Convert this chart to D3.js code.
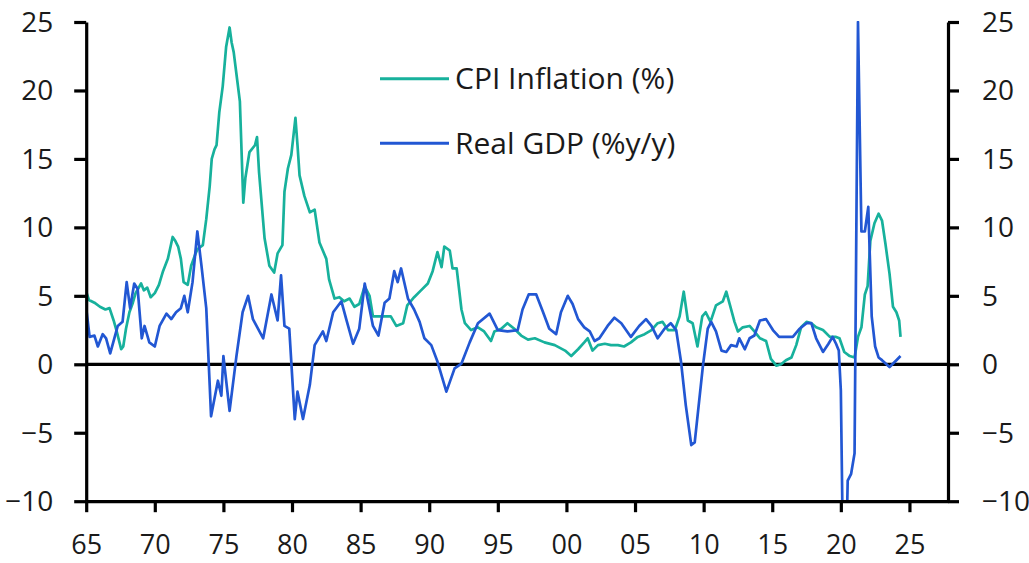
<!DOCTYPE html>
<html>
<head>
<meta charset="utf-8">
<script src="https://cdn.jsdelivr.net/npm/d3@7/dist/d3.min.js"></script>
<style>
  html, body { margin: 0; padding: 0; background: #fff; }
  svg { display: block; }
  text { font-family: "Open Sans", "Noto Sans", sans-serif; fill: #1a1a1a; }
</style>
</head>
<body>
<svg id="chart" width="1029" height="563"></svg>
<script>
// ---- Data (decimal year, value) ----
const cpiInflation = [
  [1965.0,5.3],[1965.2,4.7],[1965.6,4.5],[1966.0,4.2],[1966.4,4.0],[1966.7,4.1],[1967.0,3.2],[1967.2,2.5],
  [1967.55,1.1],[1967.7,1.3],[1967.9,2.6],[1968.15,3.8],[1968.4,4.5],[1968.6,5.2],[1969.0,5.9],[1969.2,5.4],
  [1969.45,5.6],[1969.7,4.9],[1970.0,5.2],[1970.3,5.8],[1970.6,6.8],[1970.95,7.7],[1971.15,8.6],[1971.3,9.3],
  [1971.5,9.0],[1971.7,8.6],[1971.9,7.7],[1972.1,6.0],[1972.4,5.8],[1972.65,7.2],[1972.9,7.9],[1973.1,8.4],
  [1973.5,8.7],[1973.75,10.6],[1974.0,13.0],[1974.15,15.0],[1974.35,15.7],[1974.5,16.0],[1974.7,18.4],
  [1974.95,20.3],[1975.2,23.2],[1975.45,24.6],[1975.6,23.5],[1975.75,22.8],[1976.0,20.8],[1976.2,19.2],
  [1976.45,11.8],[1976.6,13.6],[1976.9,15.5],[1977.3,16.0],[1977.45,16.6],[1977.6,14.0],[1978.0,9.2],
  [1978.35,7.2],[1978.7,6.7],[1978.95,8.1],[1979.3,8.7],[1979.45,12.6],[1979.7,14.3],[1979.95,15.3],
  [1980.25,18.0],[1980.4,16.0],[1980.55,13.8],[1980.9,12.3],[1981.3,11.1],[1981.65,11.3],[1982.0,8.9],
  [1982.5,7.7],[1982.7,6.2],[1983.1,4.8],[1983.45,4.9],[1983.8,4.6],[1984.2,4.8],[1984.55,4.2],[1984.9,4.4],
  [1985.3,5.7],[1985.65,5.0],[1985.9,3.5],[1986.25,3.5],[1986.5,3.5],[1987.2,3.5],[1987.6,2.8],[1988.1,3.0],
  [1988.4,4.3],[1988.9,4.9],[1989.4,5.4],[1989.9,5.9],[1990.25,6.8],[1990.6,8.2],[1990.9,7.1],[1991.1,8.6],
  [1991.5,8.3],[1991.7,7.0],[1992.0,7.0],[1992.35,4.0],[1992.6,3.0],[1993.05,2.5],[1993.55,2.7],[1994.0,2.4],
  [1994.5,1.7],[1994.75,2.4],[1995.25,2.6],[1995.7,3.0],[1996.2,2.6],[1996.7,2.1],[1997.2,1.8],[1997.7,1.9],
  [1998.4,1.6],[1999.15,1.4],[1999.9,1.0],[2000.35,0.6],[2000.85,1.1],[2001.3,1.6],[2001.55,1.9],[2001.9,1.0],
  [2002.3,1.4],[2002.8,1.5],[2003.25,1.4],[2003.75,1.4],[2004.2,1.3],[2004.7,1.6],[2005.2,2.0],[2005.7,2.2],
  [2006.2,2.5],[2006.65,3.0],[2007.0,3.1],[2007.4,2.5],[2007.9,2.5],[2008.25,3.5],[2008.55,5.3],[2008.85,3.2],
  [2009.2,3.0],[2009.55,1.3],[2009.9,3.5],[2010.15,3.8],[2010.5,3.1],[2010.9,4.3],[2011.4,4.6],[2011.65,5.3],
  [2011.9,4.4],[2012.25,3.1],[2012.5,2.4],[2012.85,2.7],[2013.35,2.8],[2013.7,2.4],[2014.1,1.9],[2014.55,1.7],
  [2014.9,0.4],[2015.3,-0.1],[2015.65,0.0],[2016.0,0.3],[2016.4,0.5],[2016.75,1.4],[2017.1,2.7],[2017.5,3.1],
  [2017.85,3.0],[2018.2,2.7],[2018.7,2.5],[2019.2,2.0],[2019.65,2.0],[2019.9,1.9],[2020.25,0.9],[2020.65,0.6],
  [2021.0,0.5],[2021.25,2.0],[2021.5,2.7],[2021.75,5.1],[2021.95,5.7],[2022.15,9.0],[2022.45,10.3],
  [2022.75,11.0],[2023.0,10.5],[2023.25,8.8],[2023.55,6.6],[2023.8,4.2],[2024.05,3.8],[2024.25,3.2],[2024.35,2.0]
];

const realGDP = [
  [1965.0,4.1],[1965.25,2.0],[1965.6,2.1],[1965.85,1.3],[1966.2,2.2],[1966.45,1.9],[1966.75,0.8],[1967.05,1.9],
  [1967.3,2.8],[1967.65,3.1],[1967.95,6.0],[1968.2,4.1],[1968.5,5.9],[1968.75,5.5],[1969.05,1.9],[1969.25,2.8],
  [1969.6,1.6],[1970.0,1.3],[1970.35,2.8],[1970.85,3.7],[1971.2,3.3],[1971.55,3.8],[1971.9,4.1],[1972.15,5.0],
  [1972.4,3.8],[1972.75,6.0],[1973.1,9.7],[1973.4,7.2],[1973.75,4.1],[1974.0,-1.5],[1974.1,-3.8],[1974.6,-1.2],
  [1974.85,-2.3],[1975.0,0.6],[1975.45,-3.4],[1975.95,0.6],[1976.4,3.8],[1976.8,5.0],[1977.15,3.3],[1977.9,1.9],
  [1978.5,5.1],[1978.95,3.2],[1979.2,6.5],[1979.45,2.8],[1979.8,2.6],[1980.2,-4.0],[1980.4,-2.0],[1980.8,-4.0],
  [1981.3,-1.5],[1981.65,1.4],[1982.25,2.4],[1982.5,1.7],[1983.0,3.8],[1983.6,4.6],[1983.95,3.3],[1984.45,1.5],
  [1984.9,2.6],[1985.3,5.9],[1985.5,4.8],[1985.9,2.8],[1986.3,2.1],[1986.75,4.5],[1987.1,4.8],[1987.45,6.8],
  [1987.7,6.0],[1987.95,7.0],[1988.45,4.8],[1988.9,4.0],[1989.3,3.1],[1989.65,1.9],[1990.15,1.4],[1990.6,0.2],
  [1991.25,-2.0],[1991.85,-0.3],[1992.35,0.05],[1992.95,1.6],[1993.55,3.0],[1994.4,3.7],[1995.0,2.5],[1995.7,2.4],
  [1996.45,2.5],[1996.8,4.0],[1997.25,5.1],[1997.8,5.1],[1998.3,3.8],[1998.75,2.6],[1999.25,2.2],[1999.6,3.8],
  [2000.1,5.0],[2000.45,4.4],[2000.85,3.3],[2001.3,2.7],[2001.7,2.4],[2002.05,1.7],[2002.4,1.9],[2003.0,2.8],
  [2003.5,3.4],[2004.0,3.0],[2004.7,2.0],[2005.3,2.8],[2005.8,3.3],[2006.2,2.8],[2006.65,1.9],[2007.15,2.6],
  [2007.6,3.0],[2008.0,2.5],[2008.35,0.2],[2008.7,-3.0],[2009.1,-5.9],[2009.35,-5.7],[2009.95,-0.1],[2010.3,2.6],
  [2010.55,3.1],[2010.9,2.4],[2011.3,1.0],[2011.65,0.9],[2012.0,1.4],[2012.4,1.3],[2012.6,1.9],[2013.0,1.1],
  [2013.35,1.9],[2013.7,2.1],[2014.1,3.2],[2014.55,3.3],[2015.05,2.5],[2015.5,2.0],[2016.0,2.0],[2016.5,2.0],
  [2017.0,2.6],[2017.5,3.0],[2017.85,3.0],[2018.2,1.9],[2018.7,0.9],[2019.1,1.5],[2019.4,2.0],[2019.65,1.5],
  [2019.85,1.0],[2020.0,-1.9],[2020.25,-21.0],[2020.5,-8.5],[2020.75,-8.0],[2021.0,-6.5],[2021.25,25.0],
  [2021.5,9.7],[2021.75,9.7],[2022.0,11.5],[2022.25,3.5],[2022.5,1.3],[2022.75,0.5],[2023.0,0.3],[2023.55,-0.2],
  [2024.05,0.3],[2024.35,0.6]
];

const yTicks = [-10, -5, 0, 5, 10, 15, 20, 25];
const xTickYears = [1965,1970,1975,1980,1985,1990,1995,2000,2005,2010,2015,2020,2025];
const xTickLabels = ["65","70","75","80","85","90","95","00","05","10","15","20","25"];
const seriesNames = ["CPI Inflation (%)", "Real GDP (%y/y)"];
const seriesColors = ["#17b19c", "#2257d3"];

// ---- Scales ----
const svg = d3.select("#chart");
const x = d3.scaleLinear().domain([1965, 2027.81]).range([86.2, 948]);
const y = d3.scaleLinear().domain([-10, 25]).range([501.2, 22]);

// clip
svg.append("defs").append("clipPath").attr("id", "plotClip")
  .append("rect")
  .attr("x", x.range()[0]).attr("y", y(25) - 1)
  .attr("width", x.range()[1] - x.range()[0])
  .attr("height", y(-10) - y(25) + 1);

// zero line
svg.append("line")
  .attr("x1", x.range()[0]).attr("x2", x.range()[1])
  .attr("y1", y(0)).attr("y2", y(0))
  .attr("stroke", "#000").attr("stroke-width", 3.2);

// lines
const lineGen = d3.line().x(d => x(d[0])).y(d => y(d[1]));
const plot = svg.append("g").attr("clip-path", "url(#plotClip)");
[cpiInflation, realGDP].forEach((s, i) => {
  plot.append("path")
    .datum(s)
    .attr("d", lineGen)
    .attr("fill", "none")
    .attr("stroke", seriesColors[i])
    .attr("stroke-width", 2.7)
    .attr("stroke-linejoin", "round");
});

// axes
function styleAxis(g) {
  g.select(".domain").attr("stroke", "#000").attr("stroke-width", 3.2);
  g.selectAll(".tick line").attr("stroke", "#000").attr("stroke-width", 3.2);
  g.selectAll(".tick text").attr("font-size", 28).attr("fill", "#1a1a1a")
    .style("font-family", '"Open Sans", "Noto Sans", sans-serif');
}

const fmtY = d3.format("d");
svg.append("g")
  .attr("transform", `translate(${x.range()[0]},0)`)
  .call(d3.axisLeft(y).tickValues(yTicks).tickFormat(fmtY).tickSize(12).tickSizeOuter(0).tickPadding(21))
  .call(styleAxis)
  .call(g => g.selectAll(".tick text").attr("dy", "0.34em"));

svg.append("g")
  .attr("transform", `translate(${x.range()[1]},0)`)
  .call(d3.axisRight(y).tickValues(yTicks).tickFormat(fmtY).tickSize(11).tickSizeOuter(0).tickPadding(23))
  .call(styleAxis)
  .call(g => g.selectAll(".tick text").attr("dy", "0.34em"));

svg.append("g")
  .attr("transform", `translate(0,${y(-10)})`)
  .call(d3.axisBottom(x).tickValues(xTickYears)
    .tickFormat((d, i) => xTickLabels[i]).tickSize(11).tickSizeOuter(0).tickPadding(36))
  .call(styleAxis)
  .call(g => g.selectAll(".tick text").attr("font-size", 27).attr("dy", "0").attr("y", 53));

// legend
const legend = svg.append("g");
const legendY = [78.7, 143.3];
seriesNames.forEach((name, i) => {
  legend.append("line")
    .attr("x1", 380).attr("x2", 449)
    .attr("y1", legendY[i]).attr("y2", legendY[i])
    .attr("stroke", seriesColors[i]).attr("stroke-width", 3);
  legend.append("text")
    .attr("x", 455).attr("y", legendY[i] + 10.7)
    .attr("font-size", 30)
    .text(name);
});
</script>
</body>
</html>
